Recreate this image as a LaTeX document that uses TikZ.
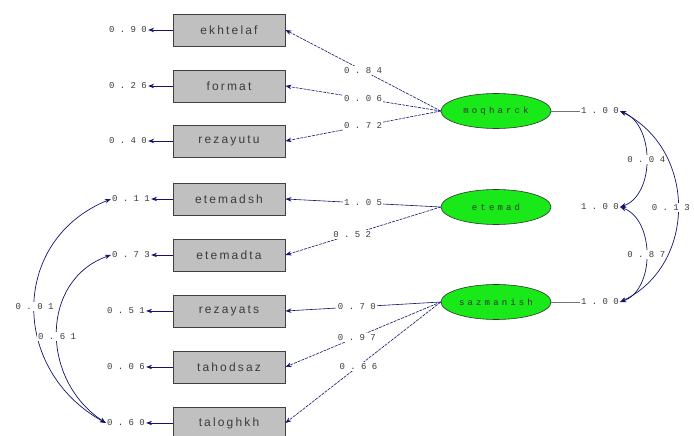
\documentclass[tikz,border=0pt]{standalone}
\usepackage{fontspec}
\setmainfont{Liberation Sans}
\newfontfamily\numfont[LetterSpace=60]{Liberation Mono}
\newfontfamily\latfont[LetterSpace=35]{Liberation Mono}
\newfontfamily\boxfont[LetterSpace=18]{Liberation Sans}
\usetikzlibrary{arrows.meta,shapes.geometric}
\definecolor{arrowblue}{RGB}{20,20,110}
\definecolor{boxgray}{RGB}{192,192,192}
\definecolor{latgreen}{RGB}{25,232,25}
\definecolor{txtgray}{RGB}{60,60,60}
\tikzset{
  obs/.style={draw=black!75, line width=0.9pt, fill=boxgray, minimum width=112pt, minimum height=32pt, inner sep=0pt, font=\boxfont\fontsize{12}{12}\selectfont, text=txtgray},
  lat/.style={draw=black!80, line width=0.6pt, fill=latgreen, ellipse, minimum width=110pt, minimum height=35pt, inner sep=0pt, font=\latfont\fontsize{9}{9}\selectfont, text=black!80},
  num/.style={font=\numfont\fontsize{9}{9}\selectfont, text=txtgray, inner sep=1pt},
  lab/.style={num, fill=white, inner sep=1.5pt},
  tip/.style={-{Stealth[length=6pt,width=4.5pt]}},
  err/.style={tip, draw=arrowblue, line width=0.9pt},
  load/.style={tip, draw=arrowblue, line width=0.6pt, dash pattern=on 3pt off 1pt},
  loadsolid/.style={tip, draw=arrowblue, line width=0.6pt},
  cov/.style={{Stealth[length=6pt,width=4.5pt]}-{Stealth[length=6pt,width=4.5pt]}, draw=arrowblue, line width=0.7pt},
  varline/.style={draw=black!55, line width=0.5pt}
}
\begin{document}
\begin{tikzpicture}[x=1pt,y=-1pt]
\useasboundingbox[fill=white] (0,0) rectangle (694,436);
% observed variables
\node[obs] (b1) at (229,30) {ekhtelaf};
\node[obs] (b2) at (229,86) {format};
\node[obs] (b3) at (229,141) {rezayutu};
\node[obs] (b4) at (229,199) {etemadsh};
\node[obs] (b5) at (229,255) {etemadta};
\node[obs] (b6) at (229,311) {rezayats};
\node[obs] (b7) at (229,367) {tahodsaz};
\node[obs] (b8) at (229,423) {taloghkh};
% error variances
\node[num] (e1) at (128,30) {0.90};
\node[num] (e2) at (128,86) {0.26};
\node[num] (e3) at (128,141) {0.40};
\node[num] (e4) at (131,199) {0.11};
\node[num] (e5) at (131,255) {0.73};
\node[num] (e6) at (126,311) {0.51};
\node[num] (e7) at (126,367) {0.06};
\node[num] (e8) at (126,423) {0.60};
\foreach \i in {1,...,8} { \draw[err] (b\i.west) -- (e\i.east); }
% latent variables
\node[lat] (m) at (496,111) {moqharck};
\node[lat] (t) at (496,207) {etemad};
\node[lat] (s) at (496,302) {sazmanish};
% latent variances
\node[num] (v1) at (600,111) {1.00};
\node[num] (v2) at (600,207) {1.00};
\node[num] (v3) at (600,302) {1.00};
\draw[varline] (m.east) -- (v1.west);
\draw[varline] (s.east) -- (v3.west);
% loadings
\draw[load] (m.west) -- node[lab,pos=0.5] {0.84} (b1.east);
\draw[load] (m.west) -- node[lab,pos=0.5] {0.06} (b2.east);
\draw[load] (m.west) -- node[lab,pos=0.5] {0.72} (b3.east);
\draw[loadsolid] (t.west) -- node[lab,pos=0.5] {1.05} (b4.east);
\draw[load] (t.west) -- node[lab,pos=0.57] {0.52} (b5.east);
\draw[loadsolid] (s.west) -- node[lab,pos=0.54] {0.70} (b6.east);
\draw[load] (s.west) -- node[lab,pos=0.54] {0.97} (b7.east);
\draw[load] (s.west) -- node[lab,pos=0.53] {0.66} (b8.east);
% latent covariances
\draw[cov] (v1.east) .. controls (655,125) and (655,195) .. node[lab,pos=0.5] {0.04} (v2.east);
\draw[cov] (v2.east) .. controls (655,220) and (655,290) .. node[lab,pos=0.5] {0.87} (v3.east);
\draw[cov] (v1.east) .. controls (697,150) and (697,265) .. node[lab,pos=0.5,xshift=-7pt] {0.13} (v3.east);
% error covariances
\draw[cov] (e4.west) .. controls (10,240) and (10,370) .. node[lab,pos=0.5] {0.01} (e8.west);
\draw[cov] (e5.west) .. controls (40,280) and (40,380) .. node[lab,pos=0.52] {0.61} (e8.west);
\end{tikzpicture}
\end{document}
